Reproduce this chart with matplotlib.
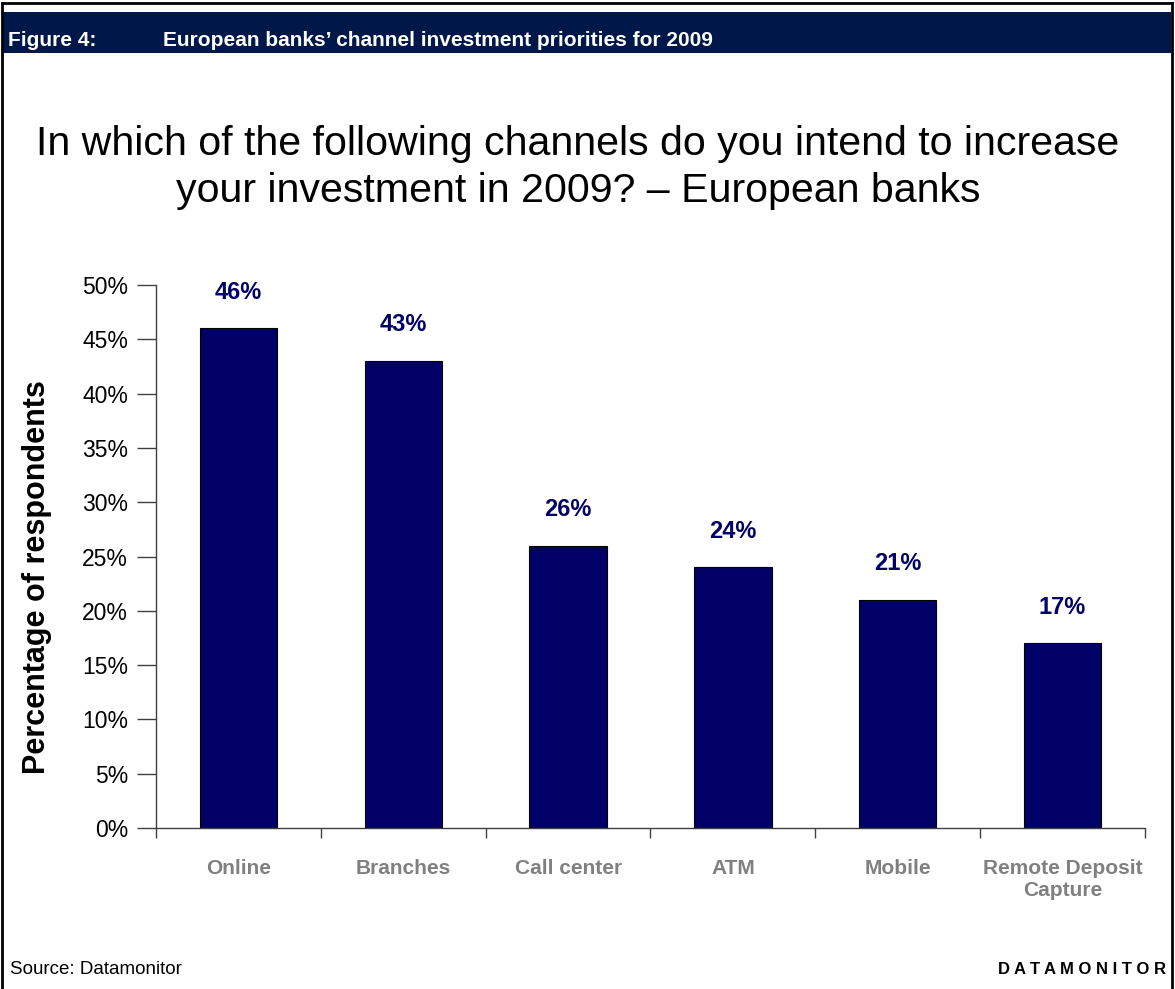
import matplotlib.pyplot as plt
from matplotlib.patches import Rectangle
from matplotlib.lines import Line2D
import numpy as np

plt.rcParams['font.family'] = ['Liberation Sans', 'DejaVu Sans']

channels = ['Online', 'Branches', 'Call center', 'ATM', 'Mobile', 'Remote Deposit\nCapture']
shares = [46, 43, 26, 24, 21, 17]
yticks = [0, 5, 10, 15, 20, 25, 30, 35, 40, 45, 50]

navy = '#000066'
header_blue = '#00174a'
grey_txt = '#808080'
axis_grey = '#404040'

fig = plt.figure(figsize=(11.75, 9.89), dpi=100)
W, H = 1175, 989

# frame and header band
fig.add_artist(Line2D([2 / W, 2 / W], [0, 1 - 3 / H], color='black', lw=2))
fig.add_artist(Line2D([2 / W, 1172 / W], [1 - 3 / H, 1 - 3 / H], color='black', lw=2))
fig.add_artist(Line2D([1172 / W, 1172 / W], [0, 1 - 3 / H], color='black', lw=2))
fig.add_artist(Rectangle((3 / W, 1 - 53 / H), 1168 / W, 41 / H, color=header_blue, lw=0))
fig.text(8 / W, 1 - 40 / H, 'Figure 4:', color='white', fontsize=15, fontweight='bold', va='center')
fig.text(163 / W, 1 - 40 / H, 'European banks\u2019 channel investment priorities for 2009',
         color='white', fontsize=15, fontweight='bold', va='center')

fig.text(578 / W, 1 - 167 / H,
         'In which of the following channels do you intend to increase\nyour investment in 2009? \u2013 European banks',
         ha='center', va='center', fontsize=29.6, linespacing=1.3)

ax = fig.add_axes([156 / W, 1 - 828 / H, 989 / W, 543 / H])
x = np.arange(len(channels))
ax.bar(x, shares, width=0.47, color=navy, edgecolor='black', linewidth=0.8)

for xi, v in zip(x, shares):
    ax.annotate(f'{v}%', (xi, v), xytext=(0, 26), textcoords='offset points',
                ha='center', va='center', fontsize=17, fontweight='bold', color=navy)

ax.set_xlim(-0.5, len(channels) - 0.5)
ax.set_ylim(0, 50)
ax.set_yticks(yticks)
ax.set_yticklabels([f'{t}%' for t in yticks], fontsize=16.5)
ax.tick_params(axis='y', direction='out', length=14, width=1, color=axis_grey, pad=6)

ax.set_xticks(x)
ax.set_xticklabels(channels, fontsize=15, fontweight='bold', color=grey_txt, va='top')
ax.tick_params(axis='x', length=0, pad=22)
ax.set_xticks(np.arange(-0.5, len(channels)), minor=True)
ax.tick_params(axis='x', which='minor', direction='out', length=7, width=1, color=axis_grey)

for s in ['top', 'right']:
    ax.spines[s].set_visible(False)
for s in ['left', 'bottom']:
    ax.spines[s].set_color(axis_grey)
    ax.spines[s].set_linewidth(1)

ax.set_ylabel('Percentage of respondents', fontsize=22, fontweight='bold')
ax.yaxis.set_label_coords(-104 / 989, (828 - 577) / 543)

fig.text(10 / W, 1 - 970 / H, 'Source: Datamonitor', fontsize=13.5, va='center')
fig.text(1166 / W, 1 - 970 / H, ' '.join('DATAMONITOR'), fontsize=12, fontweight='bold',
         ha='right', va='center')

fig.savefig('out.png', dpi=100)
